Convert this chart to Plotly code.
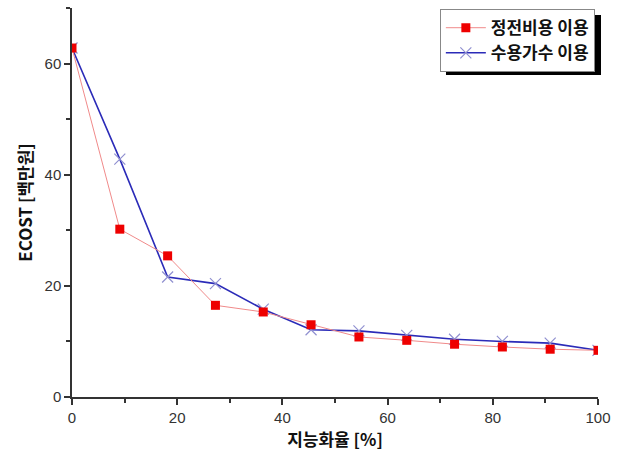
import plotly.graph_objects as go

x_vals = [0, 9.09, 18.18, 27.27, 36.36, 45.45, 54.55, 63.64, 72.73, 81.82, 90.91, 100]
cost_outage = [62.8, 30.2, 25.4, 16.5, 15.3, 13.0, 10.8, 10.2, 9.5, 9.0, 8.6, 8.4]
cost_customers = [62.8, 42.8, 21.6, 20.4, 15.8, 12.1, 11.9, 11.1, 10.4, 10.0, 9.7, 8.4]
name_outage = "정전비용 이용"
name_customers = "수용가수 이용"
x_title = "지능화율 [%]"
y_title = "ECOST [백만원]"

fig = go.Figure()
fig.add_trace(go.Scatter(
    x=x_vals, y=cost_customers, name=name_customers, mode="lines+markers",
    line=dict(color="#2b2bb8", width=1.6), legendrank=2, cliponaxis=True,
    marker=dict(symbol="x-thin-open", size=11, color="#9090d0", line=dict(width=1.2, color="#9090d0")),
))
fig.add_trace(go.Scatter(
    x=x_vals, y=cost_outage, name=name_outage, mode="lines+markers",
    line=dict(color="#f08a8a", width=1), legendrank=1, cliponaxis=True,
    marker=dict(symbol="square", size=9, color="#ee0000", line=dict(width=0)),
))

axis_common = dict(
    showline=True, linecolor="#333333", linewidth=1.5, mirror=False,
    ticks="outside", ticklen=6, tickwidth=1.5, tickcolor="#333333",
    showgrid=False, zeroline=False,
    tickfont=dict(family="Liberation Sans, Arial", size=15, color="#333333"),
    minor=dict(ticks="outside", ticklen=4, tickwidth=1.5, tickcolor="#333333", dtick=10),
)

fig.update_layout(
    width=619, height=453,
    margin=dict(l=72, r=21, t=8, b=56),
    paper_bgcolor="white", plot_bgcolor="white",
    showlegend=True,
    legend=dict(
        x=0.994, y=0.997, xanchor="right", yanchor="top",
        bgcolor="white", bordercolor="#888888", borderwidth=1,
        font=dict(family="Noto Sans CJK KR", size=17, color="#111111", weight="bold"),
        tracegroupgap=0, itemwidth=40, traceorder="normal",
    ),
    shapes=[dict(type="rect", xref="paper", yref="paper",
                 x0=0.711, x1=1.0057, y0=0.828, y1=0.982,
                 fillcolor="black", line=dict(width=0), layer="above")],
    xaxis=dict(range=[0, 100], dtick=20, tick0=0,
               title=dict(text=x_title, standoff=6,
                          font=dict(family="Noto Sans CJK KR", size=17, color="#111111", weight="bold")),
               **axis_common),
    yaxis=dict(range=[0, 70], dtick=20, tick0=0,
               title=dict(text=y_title, standoff=8,
                          font=dict(family="Noto Sans CJK KR", size=17, color="#111111", weight="bold")),
               **axis_common),
)

fig.write_html("out.html")
